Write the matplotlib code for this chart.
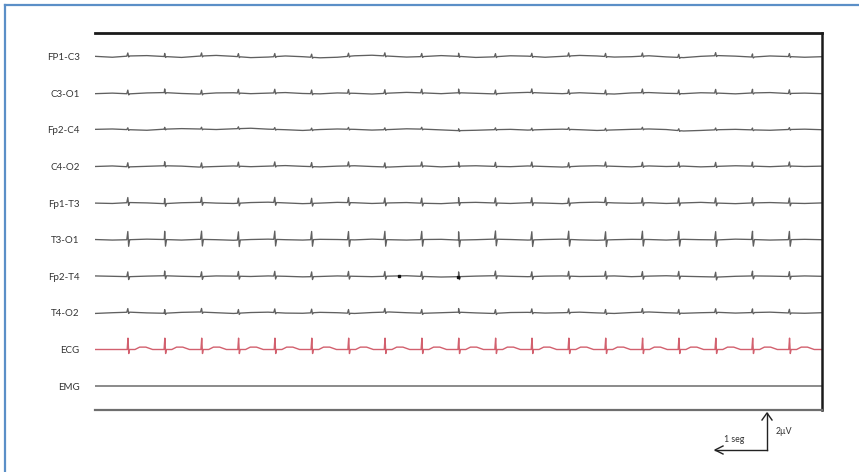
import numpy as np
import matplotlib
matplotlib.use("Agg")
import matplotlib.pyplot as plt
from matplotlib.lines import Line2D

# ---- channels -------------------------------------------------------------
channels = ["FP1-C3", "C3-O1", "Fp2-C4", "C4-O2", "Fp1-T3",
            "T3-O1", "Fp2-T4", "T4-O2", "ECG", "EMG"]

# heart beats (s) – the ECG R peaks, also picked up as artifact by the EEG leads
beat_times = [0.64, 1.35, 2.06, 2.77, 3.47, 4.18, 4.89, 5.59, 6.30, 7.01,
              7.72, 8.42, 9.13, 9.84, 10.55, 11.25, 11.96, 12.67, 13.38]

# spike deflections per channel (µV): upward peak, downward trough
spike_up = [0.17, 0.20, 0.10, 0.22, 0.28, 0.45, 0.26, 0.20, 0.62, 0.0]
spike_down = [0.05, 0.06, 0.04, 0.06, 0.15, 0.36, 0.16, 0.07, 0.22, 0.0]

# ECG T wave height (µV)
t_wave = 0.13

# electrode pops on Fp2-T4 (s)
pop_times = [5.85, 6.99]

# slow background activity of each EEG lead, sampled every 1/3 s (µV)
bg_fp1_c3 = [0.02, -0.03, 0.04, 0.06, 0.01, -0.04, 0.03, 0.07, 0.02, -0.05, -0.02,
             0.04, 0.00, -0.06, -0.03, 0.05, 0.08, 0.03, -0.02, 0.01, 0.06, 0.02,
             -0.04, -0.01, 0.05, 0.03, -0.03, 0.02, 0.07, 0.04, -0.02, 0.00, 0.05,
             -0.01, -0.05, 0.02, 0.06, 0.03, -0.02, 0.04, 0.01, -0.03, 0.00]
bg_c3_o1 = [-0.02, 0.01, -0.03, 0.02, 0.04, -0.01, -0.04, 0.02, 0.03, -0.02, 0.01,
            0.04, -0.01, -0.03, 0.02, 0.00, -0.04, 0.01, 0.05, 0.02, -0.02, 0.03,
            0.00, -0.03, 0.02, 0.05, 0.01, -0.02, 0.03, -0.01, -0.04, 0.02, 0.04,
            0.00, -0.02, 0.03, 0.01, -0.03, 0.02, 0.04, -0.01, 0.01, -0.02]
bg_fp2_c4 = [0.03, 0.05, 0.01, -0.02, 0.04, 0.07, 0.05, 0.02, 0.06, 0.09, 0.04,
             0.01, -0.03, 0.02, 0.05, 0.03, -0.01, 0.02, 0.06, 0.04, 0.00, -0.04,
             -0.02, 0.01, 0.03, -0.01, 0.02, 0.04, 0.01, -0.03, 0.00, 0.03, 0.05,
             0.02, -0.06, -0.03, 0.01, 0.03, 0.00, -0.02, 0.02, 0.04, 0.01]
bg_c4_o2 = [0.00, 0.03, -0.02, 0.01, 0.04, 0.02, -0.03, 0.00, 0.03, -0.01, 0.02,
            0.05, 0.01, -0.02, 0.02, 0.04, 0.00, -0.03, 0.01, 0.03, -0.02, 0.02,
            0.04, 0.01, -0.01, 0.03, 0.00, -0.03, 0.02, 0.04, 0.01, -0.02, 0.03,
            0.00, 0.02, -0.02, 0.01, 0.04, 0.02, -0.01, 0.03, 0.00, 0.02]
bg_fp1_t3 = [0.00, -0.02, 0.03, 0.01, -0.03, 0.02, 0.04, 0.00, -0.02, 0.03, 0.05,
             0.01, -0.03, 0.00, 0.04, 0.02, -0.02, 0.01, 0.03, -0.01, -0.03, 0.02,
             0.04, 0.01, -0.02, 0.02, 0.00, -0.03, 0.03, 0.05, 0.01, -0.01, 0.02,
             -0.02, 0.01, 0.04, 0.00, -0.03, 0.01, 0.03, 0.00, -0.02, 0.01]
bg_t3_o1 = [0.01, -0.02, 0.00, 0.03, 0.01, -0.02, 0.02, 0.00, -0.03, 0.01, 0.03,
            0.00, -0.02, 0.02, 0.01, -0.01, 0.03, 0.00, -0.02, 0.01, 0.02, -0.02,
            0.00, 0.03, 0.01, -0.02, 0.01, 0.03, -0.01, -0.03, 0.00, 0.02, 0.01,
            -0.02, 0.02, 0.00, -0.01, 0.03, 0.01, -0.02, 0.00, 0.02, 0.00]
bg_fp2_t4 = [0.02, 0.00, -0.02, 0.01, 0.03, 0.00, -0.02, 0.02, 0.01, -0.01, 0.02,
             0.00, -0.03, -0.01, 0.02, 0.00, -0.02, 0.01, 0.03, -0.01, -0.04, -0.02,
             0.01, 0.03, 0.00, -0.02, 0.01, 0.02, -0.01, 0.00, 0.02, -0.02, 0.01,
             0.03, 0.00, -0.02, -0.04, 0.00, 0.02, 0.01, -0.01, 0.02, 0.00]
bg_t4_o2 = [-0.03, 0.01, 0.04, 0.00, -0.02, 0.03, 0.05, 0.01, -0.03, 0.02, 0.04,
            -0.01, -0.02, 0.03, 0.01, -0.03, 0.02, 0.05, 0.01, -0.02, 0.01, 0.04,
            0.00, -0.03, 0.02, 0.03, -0.01, 0.01, 0.04, 0.00, -0.03, 0.02, 0.05,
            0.01, -0.02, 0.01, 0.03, -0.01, 0.02, 0.04, 0.00, -0.02, 0.01]
bg_ecg = [0.0, 0.0]
bg_emg = [0.0, 0.0]

backgrounds = [bg_fp1_c3, bg_c3_o1, bg_fp2_c4, bg_c4_o2, bg_fp1_t3,
               bg_t3_o1, bg_fp2_t4, bg_t4_o2, bg_ecg, bg_emg]

duration = 14.0
spacing = 2.0   # µV between traces


def complex_shape(name, up, down):
    """Offsets (s, µV) of one heartbeat complex relative to its R peak."""
    if name == "ECG":
        return [(-0.02, 0.0), (-0.005, up), (0.01, -down), (0.025, 0.0),
                (0.13, 0.0), (0.22, t_wave), (0.34, t_wave), (0.47, 0.0)]
    return [(-0.028, 0.0), (-0.008, up), (0.008, -down), (0.028, 0.0)]


def build_trace(i):
    bg = backgrounds[i]
    bt = np.linspace(0, duration, len(bg))
    t_pts = list(bt)
    v_pts = list(bg)
    up, down = spike_up[i], spike_down[i]
    if up > 0:
        for b in beat_times:
            for dt, dv in complex_shape(channels[i], up, down):
                tt = b + dt
                if 0 <= tt <= duration:
                    t_pts.append(tt)
                    v_pts.append(np.interp(tt, bt, bg) + dv)
    order = np.argsort(t_pts, kind="stable")
    return np.asarray(t_pts)[order], np.asarray(v_pts)[order], bt, bg


W, H = 859, 472
fig = plt.figure(figsize=(W / 100, H / 100), dpi=100)
fig.patch.set_facecolor("white")

ax_l, ax_r, ax_t, ax_b = 95, 822, 33, 410
ax = fig.add_axes([ax_l / W, 1 - ax_b / H, (ax_r - ax_l) / W, (ax_b - ax_t) / H])

offsets = [-spacing * i for i in range(len(channels))]
for i, name in enumerate(channels):
    t, v, bt, bg = build_trace(i)
    if name == "ECG":
        color, lw = "#d2606e", 1.0
    elif name == "EMG":
        color, lw = "#8a8a8a", 1.4
    else:
        color, lw = "#606060", 0.95
    ax.plot(t, v + offsets[i], color=color, lw=lw, solid_joinstyle="round")
    if name == "Fp2-T4":
        pv = np.interp(pop_times, bt, bg) + offsets[i]
        ax.plot(pop_times, pv, ls="none", marker="s", ms=1.8, color="#111111")

ax.set_xlim(0, duration)
ax.set_ylim(offsets[-1] - 1.306, 1.295)
ax.set_xticks([])
ax.set_yticks(offsets, labels=channels)
ax.tick_params(axis="y", length=0, pad=11, labelsize=7, labelcolor="#333333")
for lab in ax.get_yticklabels():
    lab.set_fontfamily("Lato")

ax.spines["left"].set_visible(False)
ax.spines["top"].set_color("#1a1a1a")
ax.spines["top"].set_linewidth(2.0)
ax.spines["right"].set_color("#1a1a1a")
ax.spines["right"].set_linewidth(1.8)
ax.spines["bottom"].set_color("#6e6e6e")
ax.spines["bottom"].set_linewidth(1.6)


def fx(px):
    return px / W


def fy(py):
    return 1 - py / H


# outer frame
fig.add_artist(Line2D([fx(5), fx(859)], [fy(5), fy(5)], color="#5b8fc7", lw=1.6))
fig.add_artist(Line2D([fx(5), fx(5)], [fy(5), fy(472)], color="#5b8fc7", lw=1.6))

# calibration bar
cx, cy_top, cy_bot, cx_left = 767, 413, 450, 715
fig.add_artist(Line2D([fx(cx), fx(cx)], [fy(cy_top), fy(cy_bot)], color="#222222", lw=1.0))
fig.add_artist(Line2D([fx(cx_left), fx(cx)], [fy(cy_bot), fy(cy_bot)], color="#222222", lw=1.0))
fig.add_artist(Line2D([fx(cx - 5), fx(cx), fx(cx + 5)],
                      [fy(cy_top + 7), fy(cy_top), fy(cy_top + 7)], color="#222222", lw=1.0))
fig.add_artist(Line2D([fx(cx_left + 8), fx(cx_left), fx(cx_left + 8)],
                      [fy(cy_bot - 4), fy(cy_bot), fy(cy_bot + 4)], color="#222222", lw=1.0))
fig.text(fx(734), fy(440), "1 seg", ha="center", va="center", fontsize=6.3,
         color="#333333", family="Lato")
fig.text(fx(776), fy(432), "2µV", ha="left", va="center", fontsize=6.3,
         color="#333333", family="Lato")

fig.savefig("out.png", dpi=100, facecolor="white")
